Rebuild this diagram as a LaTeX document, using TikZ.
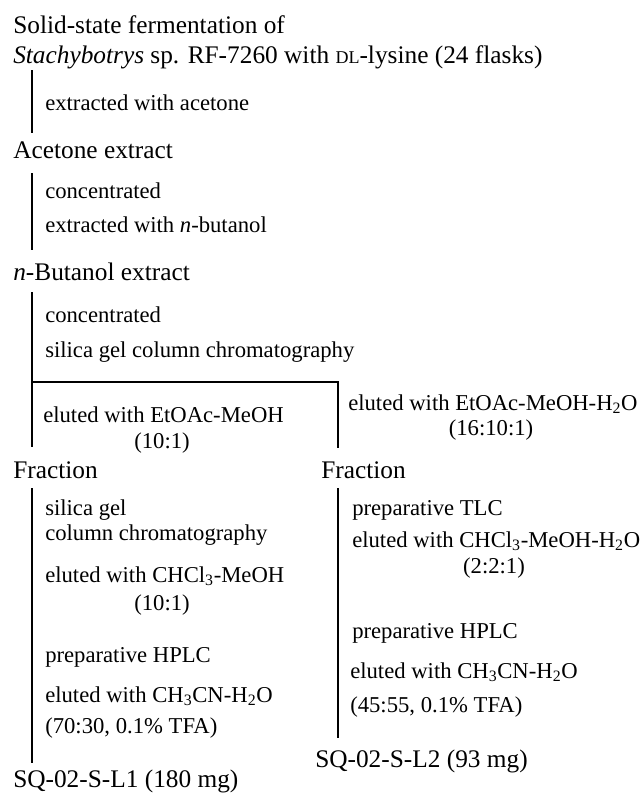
\documentclass[tikz,border=0pt]{standalone}
\usepackage{fontspec}
\setmainfont{Liberation Serif}
\begin{document}
\begin{tikzpicture}[x=0.75pt,y=-0.75pt,
  mainlbl/.style={anchor=base west, inner sep=0pt, font=\fontsize{19}{19}\selectfont},
  steplbl/.style={anchor=base west, inner sep=0pt, font=\fontsize{17}{17}\selectfont},
  ratiolbl/.style={anchor=base, inner sep=0pt, font=\fontsize{17}{17}\selectfont},
  flowline/.style={line width=1.4pt}]
\useasboundingbox (0,0) rectangle (640,793);
\newcommand{\fakesc}[1]{{\fontsize{13.5}{13.5}\selectfont #1}}
% main products
\node[mainlbl] (t1) at (13,33) {Solid-state fermentation of};
\node[mainlbl] (t2) at (13,63) {\textit{Stachybotrys} sp. RF-7260 with \fakesc{DL}-lysine (24 flasks)};
\node[mainlbl] (ace) at (13,158) {Acetone extract};
\node[mainlbl] (but) at (13,280) {\textit{n}-Butanol extract};
\node[mainlbl] (fr1) at (13,478) {Fraction};
\node[mainlbl] (fr2) at (321,478) {Fraction};
\node[mainlbl] (L1) at (13,787) {SQ-02-S-L1 (180 mg)};
\node[mainlbl] (L2) at (315,767) {SQ-02-S-L2 (93 mg)};
% step labels
\node[steplbl] (s1) at (45,110) {extracted with acetone};
\node[steplbl] (s2) at (45,198) {concentrated};
\node[steplbl] (s3) at (45,232) {extracted with \textit{n}-butanol};
\node[steplbl] (s4) at (45,322) {concentrated};
\node[steplbl] (s5) at (45,357) {silica gel column chromatography};
\node[steplbl] (s6) at (43,422) {eluted with EtOAc-MeOH};
\node[ratiolbl] (s6r) at (162,448) {(10:1)};
\node[steplbl] (s7) at (348,410) {eluted with EtOAc-MeOH-H\textsubscript{2}O};
\node[ratiolbl] (s7r) at (491,435) {(16:10:1)};
% left branch
\node[steplbl] (a1) at (45,515) {silica gel};
\node[steplbl] (a2) at (45,540) {column chromatography};
\node[steplbl] (a3) at (45,582) {eluted with CHCl\textsubscript{3}-MeOH};
\node[ratiolbl] (a3r) at (162,610) {(10:1)};
\node[steplbl] (a4) at (45,662) {preparative HPLC};
\node[steplbl] (a5) at (45,702) {eluted with CH\textsubscript{3}CN-H\textsubscript{2}O};
\node[steplbl] (a6) at (45,733) {(70:30, 0.1\% TFA)};
% right branch
\node[steplbl] (b1) at (352,515) {preparative TLC};
\node[steplbl] (b2) at (352,547) {eluted with CHCl\textsubscript{3}-MeOH-H\textsubscript{2}O};
\node[ratiolbl] (b2r) at (494,573) {(2:2:1)};
\node[steplbl] (b3) at (352,638) {preparative HPLC};
\node[steplbl] (b4) at (350,678) {eluted with CH\textsubscript{3}CN-H\textsubscript{2}O};
\node[steplbl] (b5) at (350,712) {(45:55, 0.1\% TFA)};
% line end points
\coordinate (v1a) at (32,70);  \coordinate (v1b) at (32,133);
\coordinate (v2a) at (32,173); \coordinate (v2b) at (32,250);
\coordinate (v3a) at (32,292); \coordinate (br) at (32,382);
\coordinate (brR) at (338,382);
\coordinate (v3b) at (32,447); \coordinate (v4b) at (338,448);
\coordinate (v5a) at (32,488); \coordinate (v5b) at (32,763);
\coordinate (v6a) at (338,488); \coordinate (v6b) at (338,738);
% connectors
\draw[flowline] (v1a) -- (v1b);
\draw[flowline] (v2a) -- (v2b);
\draw[flowline] (v3a) -- (br) -- (v3b);
\draw[flowline] (br) -- (brR) -- (v4b);
\draw[flowline] (v5a) -- (v5b);
\draw[flowline] (v6a) -- (v6b);
\end{tikzpicture}
\end{document}
